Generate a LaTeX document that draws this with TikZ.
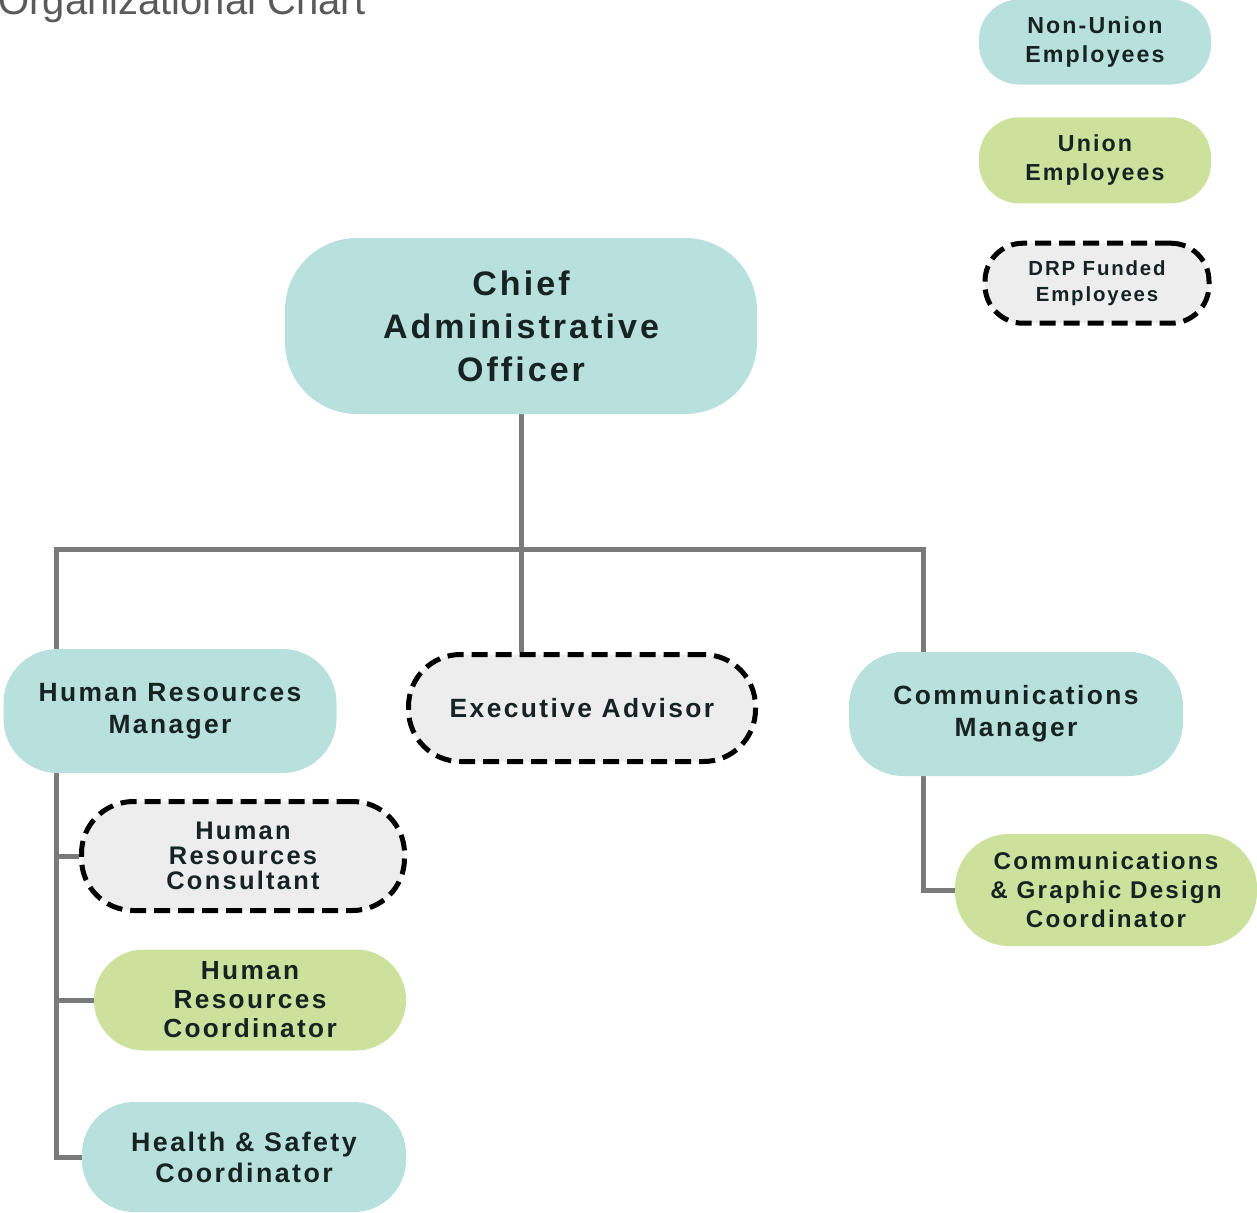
\documentclass[tikz,border=0pt]{standalone}
\usepackage{fontspec}
\setmainfont{Liberation Sans}
\newfontfamily\chartfont[LetterSpace=9]{Liberation Sans}
\usepackage{xcolor}
\usepackage{tikz}
\usetikzlibrary{positioning,backgrounds}
\definecolor{nonunionfill}{HTML}{B8E0DD}
\definecolor{unionfill}{HTML}{CCE29C}
\definecolor{drpfill}{HTML}{EDEDED}
\definecolor{linkgray}{HTML}{7A7A7A}
\definecolor{ink}{HTML}{172222}
\definecolor{titlegray}{HTML}{5A5A5A}

\begin{document}
\begin{tikzpicture}[x=0.5pt, y=-0.5pt,
    post/.style={rectangle, align=center, text=ink, inner sep=0pt,
                 rounded corners=26pt,
                 font=\chartfont\bfseries\fontsize{13.2}{16}\selectfont},
    nonunion/.style={post, fill=nonunionfill},
    union/.style={post, fill=unionfill},
    drp/.style={post, fill=drpfill, draw=black, line width=2.5pt,
                dash pattern=on 8pt off 4pt},
    link/.style={draw=linkgray, line width=2.5pt},
]
\useasboundingbox (0,0) rectangle (1257,1212);

\node[anchor=base west, inner sep=0pt, text=titlegray,
      font=\fontsize{20}{24}\selectfont] (title) at (-2,14) {Organizational Chart};

% legend
\node[nonunion, minimum width=116pt, minimum height=42.5pt, rounded corners=20pt,
      font=\chartfont\bfseries\fontsize{11.6}{14.5}\selectfont]
      (keynon) at (1095,42) {Non-Union\\Employees};
\node[union, below=16pt of keynon, minimum width=116pt, minimum height=43pt,
      rounded corners=20pt,
      font=\chartfont\bfseries\fontsize{11.6}{14.5}\selectfont]
      (keyunion) {Union\\Employees};
\node[drp, below=18.5pt of keyunion, xshift=1pt, minimum width=112pt,
      minimum height=40pt, rounded corners=19pt,
      font=\chartfont\bfseries\fontsize{10.2}{13}\selectfont]
      (keydrp) {DRP Funded\\Employees};

% top level
\node[nonunion, minimum width=236pt, minimum height=88pt, rounded corners=36pt,
      font=\chartfont\bfseries\fontsize{17}{21.5}\selectfont]
      (cao) at (521,326) {Chief\\Administrative\\Officer};

% managers
\node[nonunion, minimum width=166.5pt, minimum height=62pt, rounded corners=27pt]
      (hrm) at (170,711) {Human Resources\\Manager};
\node[drp, minimum width=173.5pt, minimum height=53.5pt]
      (exec) at (582,708) {Executive Advisor};
\node[nonunion, minimum width=167pt, minimum height=62pt, rounded corners=27pt]
      (comm) at (1016,714) {Communications\\Manager};

% human resources staff
\node[drp, minimum width=161.5pt, minimum height=54.5pt,
      font=\chartfont\bfseries\fontsize{12.7}{12.5}\selectfont]
      (hrcons) at (243,856) {Human\\Resources\\Consultant};
\node[union, minimum width=156pt, minimum height=50.5pt, rounded corners=25pt,
      font=\chartfont\bfseries\fontsize{13.1}{14.5}\selectfont]
      (hrcoord) at (250,1000) {Human\\Resources\\Coordinator};
\node[nonunion, minimum width=162pt, minimum height=55pt,
      font=\chartfont\bfseries\fontsize{13.4}{15.5}\selectfont]
      (safety) at (244,1157) {Health \& Safety\\Coordinator};

% communications staff
\node[union, minimum width=151pt, minimum height=56pt, rounded corners=27pt,
      font=\chartfont\bfseries\fontsize{12.1}{14.5}\selectfont]
      (graphic) at (1106,890) {Communications\\\& Graphic Design\\Coordinator};

% connectors
\coordinate (barL) at (56,549);
\coordinate (barR) at (923,549);
\begin{scope}[on background layer]
\draw[link] (cao.south) -- (cao.south |- exec.north);
\draw[link] (barL |- hrm.north) -- (barL) -- (barR) -- (barR |- comm.north);
\draw[link] (barL |- hrm.south) -- (barL |- safety.west) -- (safety.west);
\draw[link] (barL |- hrcons.west) -- (hrcons.west);
\draw[link] (barL |- hrcoord.west) -- (hrcoord.west);
\draw[link] (barR |- comm.south) |- (graphic.west);
\end{scope}

\end{tikzpicture}
\end{document}
